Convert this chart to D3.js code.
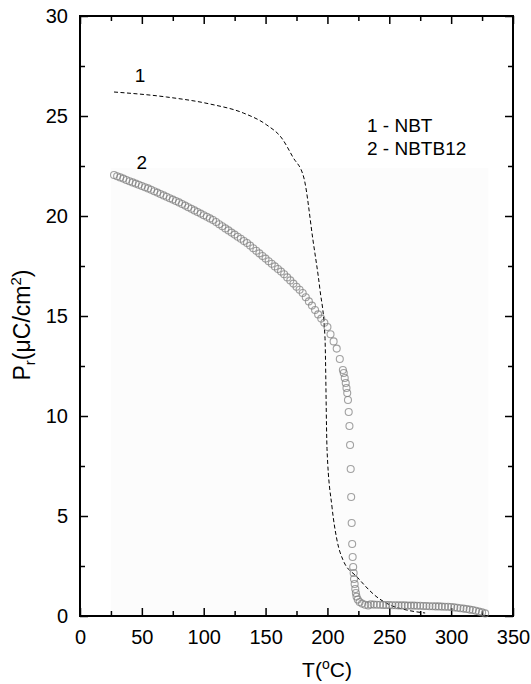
<!DOCTYPE html>
<html lang="en">

<head>
  <meta charset="utf-8">
  <script src="https://d3js.org/d3.v7.min.js" type="text/javascript"></script>
  <style>
    body { margin: 0; background: #fff; }
    text { font-family: "Liberation Sans", Arial, Helvetica, sans-serif; fill: #000; }
  </style>
</head>

<body>
  <div id='chart'></div>
  <script>
  const width = 531
  const height = 684
  const margin = {top: 16, right: 18, bottom: 68, left: 80}

  // ticks
  const xTicks = [0, 50, 100, 150, 200, 250, 300, 350]
  const yTicks = [0, 5, 10, 15, 20, 25, 30]

  // curve 1 - NBT (dashed)
  const nbtT = [27.5, 70, 105, 132, 151, 163, 172, 181, 188.3, 194, 198, 199.7, 203.7, 207.7, 212.6, 224, 240, 250.6, 264, 279]
  const nbtP = [26.2, 25.95, 25.6, 25.15, 24.55, 23.9, 22.95, 21.9, 18.8, 16.3, 13.95, 8.3, 5.45, 3.8, 2.8, 1.95, 0.95, 0.55, 0.3, 0.15]

  // curve 2 - NBTB12 (open circles)
  const nbtbT = [
    27.5, 30, 32.5, 35, 37.5, 40, 42.5, 45, 47.5, 50, 52.5, 55, 57.5, 60, 62.5, 65, 67.5, 70, 72.5, 75,
    77.5, 80, 82.5, 85, 87.5, 90, 92.5, 95, 97.5, 100, 102.5, 105, 107.5, 110, 112.5, 115, 117.5, 120,
    122.5, 125, 127.5, 130, 132.5, 135, 137.5, 140, 142.5, 145, 147.5, 150, 152.5, 155, 157.5, 160,
    162.5, 165, 167.5, 170, 172.5, 175, 177.5, 180, 182.5, 185, 187.5, 190, 192.5, 195, 197.5, 200,
    202.5, 205, 207.5, 210, 212.5,
    213.2, 214, 214.8, 215.4, 216, 216.6, 217.2, 217.8, 218.3, 218.8, 219.2, 219.6, 220, 220.4, 220.8, 221.2,
    221.5, 222, 222.5, 223, 223.5, 224.5, 226, 228, 230.5, 233,
    235, 237.5, 240, 242.5, 245, 247.5, 250, 252.5, 255, 257.5, 260, 262.5, 265, 267.5, 270, 272.5, 275,
    277.5, 280, 282.5, 285, 287.5, 290, 292.5, 295, 297.5, 300, 302.5, 305, 307.5, 310, 312.5, 315,
    317.5, 320, 322.5, 325, 327.5
  ]
  const nbtbP = [
    22.05, 21.99, 21.93, 21.87, 21.80, 21.74, 21.68, 21.62, 21.56, 21.50, 21.44, 21.38, 21.31, 21.24, 21.17, 21.10, 21.03, 20.96, 20.89, 20.82,
    20.75, 20.68, 20.60, 20.52, 20.44, 20.36, 20.28, 20.20, 20.12, 20.04, 19.96, 19.88, 19.80, 19.70, 19.59, 19.49, 19.38, 19.28,
    19.17, 19.07, 18.96, 18.86, 18.75, 18.65, 18.52, 18.39, 18.26, 18.13, 18.00, 17.87, 17.74, 17.61, 17.48, 17.35,
    17.22, 17.09, 16.93, 16.78, 16.62, 16.46, 16.31, 16.15, 15.94, 15.73, 15.52, 15.30, 15.08, 14.87, 14.66, 14.45,
    14.09, 13.73, 13.37, 12.85, 12.30,
    12.15, 11.9, 11.65, 11.4, 11.15, 10.8, 10.2, 9.5, 8.55, 7.35, 5.95, 4.65, 3.6, 2.95, 2.45, 2.15,
    1.85, 1.6, 1.35, 1.15, 0.97, 0.82, 0.7, 0.62, 0.56, 0.53,
    0.58, 0.57, 0.56, 0.56, 0.55, 0.55, 0.55, 0.54, 0.54, 0.53, 0.53, 0.53, 0.52, 0.52, 0.52, 0.51, 0.51,
    0.50, 0.50, 0.49, 0.49, 0.48, 0.48, 0.47, 0.46, 0.46, 0.45, 0.43, 0.41, 0.39, 0.37, 0.35, 0.32,
    0.30, 0.26, 0.22, 0.18, 0.13
  ]

  const nbt = nbtT.map((t, i) => ({t: t, p: nbtP[i]}))
  const nbtb = nbtbT.map((t, i) => ({t: t, p: nbtbP[i]}))

  const x = d3.scaleLinear().domain([0, 350]).range([margin.left, width - margin.right])
  const y = d3.scaleLinear().domain([0, 30]).range([height - margin.bottom, margin.top])

  const svg = d3.select('#chart').append('svg')
      .attr('width', width)
      .attr('height', height)

  // faint shaded area behind the data (scan artefact of the original)
  svg.append('rect')
      .attr('x', x(25)).attr('y', y(22.4))
      .attr('width', x(330) - x(25)).attr('height', y(0) - y(22.4))
      .attr('fill', '#fcfcfc')

  ////////////////////////////////////////////////////////////
  /////////////////////////// Axes ///////////////////////////
  ////////////////////////////////////////////////////////////

  const xMinor = d3.range(25, 350, 50)
  const yMinor = d3.range(2.5, 30, 5)

  function axisGroup(axis, tx, ty) {
    const g = svg.append('g').attr('transform', `translate(${tx},${ty})`).call(axis)
    g.select('.domain').remove()
    g.selectAll('line').attr('stroke', '#000').attr('stroke-width', 1.5)
    g.selectAll('text').style('font-size', '20px').style('font-family', '"Liberation Sans", Arial, sans-serif')
    return g
  }

  // bottom
  axisGroup(d3.axisBottom(x).tickValues(xTicks).tickSize(-8).tickPadding(14).tickFormat(d3.format('d')), 0, y(0))
  axisGroup(d3.axisBottom(x).tickValues(xMinor).tickSize(-5).tickFormat(''), 0, y(0))
  // top
  axisGroup(d3.axisTop(x).tickValues(xTicks).tickSize(-8).tickFormat(''), 0, y(30))
  axisGroup(d3.axisTop(x).tickValues(xMinor).tickSize(-5).tickFormat(''), 0, y(30))
  // left
  axisGroup(d3.axisLeft(y).tickValues(yTicks).tickSize(-8).tickPadding(12).tickFormat(d3.format('d')), x(0), 0)
  axisGroup(d3.axisLeft(y).tickValues(yMinor).tickSize(-5).tickFormat(''), x(0), 0)
  // right
  axisGroup(d3.axisRight(y).tickValues(yTicks).tickSize(-8).tickFormat(''), x(350), 0)
  axisGroup(d3.axisRight(y).tickValues(yMinor).tickSize(-5).tickFormat(''), x(350), 0)

  svg.append('rect')
      .attr('x', x(0)).attr('y', y(30))
      .attr('width', x(350) - x(0)).attr('height', y(0) - y(30))
      .attr('fill', 'none')
      .attr('stroke', '#000')
      .attr('stroke-width', 2)

  ////////////////////////////////////////////////////////////
  /////////////////////////// Data ///////////////////////////
  ////////////////////////////////////////////////////////////

  const line = d3.line()
      .x(d => x(d.t))
      .y(d => y(d.p))
      .curve(d3.curveMonotoneX)

  svg.append('path')
      .datum(nbt)
      .attr('d', line)
      .attr('fill', 'none')
      .attr('stroke', '#000')
      .attr('stroke-width', 1)
      .attr('stroke-dasharray', '4,2.5')

  svg.append('g').selectAll('circle')
      .data(nbtb)
      .enter().append('circle')
      .attr('cx', d => x(d.t))
      .attr('cy', d => y(d.p))
      .attr('r', 3.5)
      .attr('fill', 'none')
      .attr('stroke', '#7a7a7a')
      .attr('stroke-opacity', 0.7)
      .attr('stroke-width', 1.1)

  ////////////////////////////////////////////////////////////
  ////////////////////////// Labels //////////////////////////
  ////////////////////////////////////////////////////////////

  svg.append('text').attr('x', x(48.5)).attr('y', y(26.7)).attr('text-anchor', 'middle')
      .style('font-size', '19px').text('1')
  svg.append('text').attr('x', x(50)).attr('y', y(22.35)).attr('text-anchor', 'middle')
      .style('font-size', '19px').text('2')

  const legend = svg.append('g').style('font-size', '19px')
  legend.append('text').attr('x', x(232)).attr('y', y(24.2)).text('1 - NBT')
  legend.append('text').attr('x', x(232)).attr('y', y(23.05)).text('2 - NBTB12')

  // x title
  const xt = svg.append('text')
      .attr('x', 327).attr('y', 677)
      .attr('text-anchor', 'middle')
      .style('font-size', '21px')
  xt.append('tspan').text('T(')
  xt.append('tspan').attr('dy', -8).style('font-size', '14px').text('o')
  xt.append('tspan').attr('dy', 8).text('C)')

  // y title
  const yt = svg.append('text')
      .attr('transform', `translate(30,${(y(0) + y(30)) / 2 + 9}) rotate(-90)`)
      .attr('text-anchor', 'middle')
      .style('font-size', '23px')
  yt.append('tspan').text('P')
  yt.append('tspan').attr('dy', 5).style('font-size', '15px').text('r')
  yt.append('tspan').attr('dy', -5).text('(\u03bcC/cm')
  yt.append('tspan').attr('dy', -9).style('font-size', '15px').text('2')
  yt.append('tspan').attr('dy', 9).text(')')
  </script>
</body>

</html>
